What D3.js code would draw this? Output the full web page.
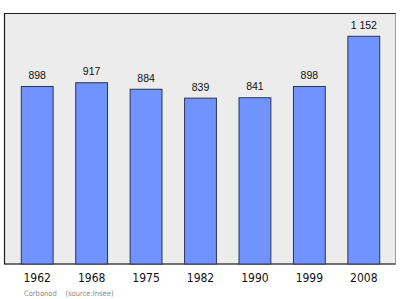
<!DOCTYPE html>
<html>
<head>
<meta charset="utf-8">
<script src="https://cdn.jsdelivr.net/npm/d3@7"></script>
<style>
  body { margin: 0; background: #fff; }
  svg { display: block; }
</style>
</head>
<body>
<svg id="chart"></svg>
<script>
const years = ['1962', '1968', '1975', '1982', '1990', '1999', '2008'];
const population = [898, 917, 884, 839, 841, 898, 1152];
const valueLabels = ['898', '917', '884', '839', '841', '898', '1 152'];
const sourceNote = ['Corbonod', '(source:Insee)'];

const width = 400;
const height = 299;
const plot = { left: 4.5, top: 13.5, right: 395.5, bottom: 264 };

const svg = d3.select('#chart')
  .attr('width', width)
  .attr('height', height);

const xScale = d3.scaleBand()
  .domain(years)
  .range([plot.left + 1, plot.right])
  .paddingInner(0.415)
  .paddingOuter(0.29);

const yScale = d3.scaleLinear()
  .domain([0, d3.max(population) * 1.1])
  .range([plot.bottom, plot.top]);

// plot background and frame
svg.append('rect')
  .attr('x', plot.left)
  .attr('y', plot.top)
  .attr('width', plot.right - plot.left)
  .attr('height', plot.bottom - plot.top)
  .attr('fill', '#ececec')
  .attr('stroke', '#9a9a9a')
  .attr('stroke-width', 1);

svg.append('path')
  .attr('d', `M${plot.right},${plot.top}H${plot.left}V${plot.bottom}H${plot.right}`)
  .attr('fill', 'none')
  .attr('stroke', '#1a1a1a')
  .attr('stroke-width', 1.2);

const data = years.map((y, i) => ({ year: y, value: population[i], label: valueLabels[i] }));

svg.selectAll('rect.bar')
  .data(data)
  .enter()
  .append('rect')
  .attr('class', 'bar')
  .attr('x', d => xScale(d.year))
  .attr('y', d => yScale(d.value))
  .attr('width', xScale.bandwidth())
  .attr('height', d => plot.bottom - yScale(d.value))
  .attr('fill', '#7093ff')
  .attr('stroke', '#2b3550')
  .attr('stroke-width', 1);

svg.selectAll('text.value')
  .data(data)
  .enter()
  .append('text')
  .attr('class', 'value')
  .attr('x', d => xScale(d.year) + xScale.bandwidth() / 2)
  .attr('y', d => yScale(d.value) - 7.5)
  .attr('text-anchor', 'middle')
  .attr('font-family', 'Liberation Sans, Arial, sans-serif')
  .attr('font-size', 10.5)
  .attr('fill', '#111')
  .text(d => d.label);

// year labels via a bottom axis without lines
const xAxis = d3.axisBottom(xScale).tickSize(0).tickPadding(0);
const gx = svg.append('g')
  .attr('transform', `translate(0, ${plot.bottom})`)
  .call(xAxis);
gx.select('.domain').remove();
gx.selectAll('text')
  .attr('dy', null)
  .attr('y', 18)
  .attr('font-family', 'DejaVu Sans Condensed, DejaVu Sans, sans-serif')
  .attr('font-stretch', 'condensed')
  .attr('font-size', 12)
  .attr('fill', '#111');

svg.append('text')
  .attr('x', 24)
  .attr('y', 296)
  .attr('font-family', 'DejaVu Sans Condensed, DejaVu Sans, sans-serif')
  .attr('font-size', 7.5)
  .attr('fill', '#8a8a8a')
  .text(sourceNote[0]);

svg.append('text')
  .attr('x', 65.5)
  .attr('y', 296)
  .attr('font-family', 'DejaVu Sans Condensed, DejaVu Sans, sans-serif')
  .attr('font-size', 7.5)
  .attr('fill', '#8a8a8a')
  .text(sourceNote[1]);
</script>
</body>
</html>
